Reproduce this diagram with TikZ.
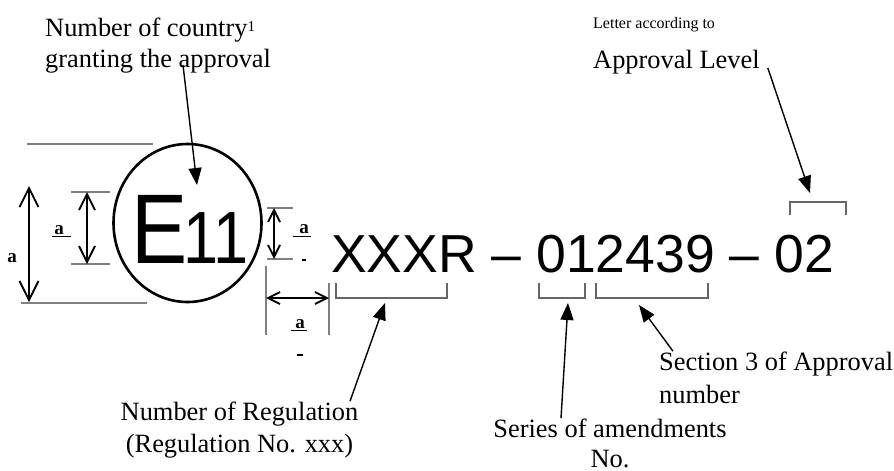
\documentclass[tikz,border=0pt]{standalone}
\usepackage{fontspec}
\setmainfont{Liberation Serif}
\newfontfamily\arialfont{Liberation Sans}
\newfontfamily\markfont[FakeStretch=0.85]{Liberation Sans}
\usetikzlibrary{arrows.meta}

\tikzset{
    dimline/.style={draw=gray, line width=1.3pt},
    brace/.style={draw=gray!80!black, line width=1.3pt},
    dimarrow/.style={line width=1.8pt,
        {Straight Barb[length=#1,width=#1]}-{Straight Barb[length=#1,width=#1]}},
    dimarrow/.default=13pt,
    pointer/.style={line width=1.4pt, -{Triangle[length=17pt,width=13pt]}},
    lbl/.style={font=\fontsize{26.4}{31}\selectfont, inner sep=0pt, align=left},
    dimlbl/.style={font=\fontsize{19}{19}\selectfont\bfseries, inner sep=0pt, anchor=base},
}

\begin{document}
\begin{tikzpicture}[x=1pt, y=-1pt]
    \useasboundingbox (0,0) rectangle (894,471);
    % approval mark
    \draw[line width=2.6pt] (187.5,223) ellipse [x radius=74, y radius=79];
    \node[anchor=base west, inner sep=0pt, font=\markfont\fontsize{99}{99}\selectfont] (letterE) at (131,263) {E};
    \node[anchor=base west, inner sep=0pt, font=\markfont\fontsize{74}{74}\selectfont] (country no) at (183,263) {11};
    \node[anchor=base west, inner sep=0pt, font=\arialfont\fontsize{53.5}{54}\selectfont] (code) at (331,272) {XXXR – 012439 – 02};

    % dimensions
    \draw[dimline] (27,144) -- (153,144) (21,303) -- (147,303);
    \draw[dimarrow=19pt] (29,186) -- (29,302);
    \node[dimlbl] (a1) at (12,262) {a};
    \draw[dimline] (71,192) -- (110,192) (71,264) -- (110,264);
    \draw[dimarrow=16pt] (87,192) -- (87,264);
    \node[dimlbl] (a2) at (59,234) {a};
    \draw (52,236) -- (71,236);
    \draw[dimline] (267,208) -- (293,208) (267,259) -- (293,259);
    \draw[dimarrow=12pt] (274,208) -- (274,259);
    \node[dimlbl] (a3) at (304,233) {a};
    \draw (293,236) -- (311,236);
    \draw[line width=1.5pt] (302,260) -- (306,260);
    \draw[dimline] (266,266) -- (266,335) (329,283) -- (329,335);
    \draw[dimarrow=12pt] (266,298) -- (329,298);
    \node[dimlbl] (a4) at (300,328) {a};
    \draw (291,330) -- (307,330);
    \draw[line width=1.5pt] (297,355) -- (303,355);

    % brackets under / over the code
    \foreach \l/\r in {336/447, 539/585, 596/708} {
        \draw[brace] (\l,283) |- (\r,298) -- (\r,283);
    }
    \draw[brace] (790,215) |- (846,202) -- (846,215);

    % labels (base = last line)
    \node[lbl, anchor=base west] (country) at (45,67)
        {Number of country\raisebox{5pt}{\fontsize{15}{15}\selectfont 1}\\granting the approval};
    \node[lbl, anchor=base west, font=\fontsize{16}{18}\selectfont] (letter) at (593,28) {Letter according to};
    \node[lbl, anchor=base west] (level) at (593,68) {Approval Level};
    \node[lbl, align=center, anchor=base, font=\fontsize{26.4}{32}\selectfont] (reg) at (239.5,452)
        {Number of Regulation\\(Regulation No. xxx)};
    \node[lbl, align=center, anchor=base, font=\fontsize{26.4}{30}\selectfont] (series) at (610,467)
        {Series of amendments\\No.};
    \node[lbl, anchor=base west, font=\fontsize{26.4}{33}\selectfont] (section) at (659,403)
        {Section 3 of Approval\\number};

    % pointers
    \coordinate (country tip) at (197,185);
    \coordinate (level tip) at (810,193);
    \coordinate (reg tip) at (385,303);
    \coordinate (series tip) at (568,303);
    \coordinate (section tip) at (639,305);
    \draw[pointer] (country.south -| 183,0) ++(0,-8) -- (country tip);
    \draw[pointer] ([xshift=8pt]level.base east) -- (level tip);
    \draw[pointer] (reg.north -| 350,0) -- (reg tip);
    \draw[pointer] (series.north -| 561,0) -- (series tip);
    \draw[pointer] (section.north -| 673,0) -- (section tip);
\end{tikzpicture}
\end{document}
